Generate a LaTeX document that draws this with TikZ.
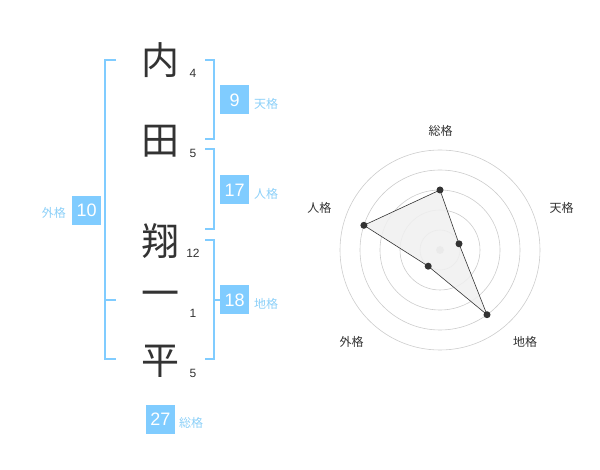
\documentclass[tikz,border=0pt]{standalone}
\usepackage{fontspec}
\setmainfont{Liberation Sans}
\newfontfamily\cjk{Noto Sans CJK JP}
\definecolor{blu}{HTML}{80CCFF}
\definecolor{lbl}{HTML}{8CD0F8}
\definecolor{ink}{HTML}{333333}
\definecolor{ring}{HTML}{CCCCCC}
\definecolor{area}{HTML}{F0F0F0}
\begin{document}
\begin{tikzpicture}[x=1pt,y=-1pt,
  kanji/.style={font=\cjk\fontsize{38}{38}\selectfont, text=ink, inner sep=0pt},
  stroke/.style={font=\fontsize{12}{12}\selectfont, text=ink, inner sep=0pt},
  numbox/.style={fill=blu, text=white, minimum width=29pt, minimum height=29pt, inner sep=0pt, font=\fontsize{18}{18}\selectfont},
  kaku/.style={font=\cjk\fontsize{12}{12}\selectfont, text=lbl, inner sep=0pt},
  brk/.style={draw=blu, line width=2pt},
  axl/.style={font=\cjk\fontsize{12}{12}\selectfont, text=ink, inner sep=0pt},
  dot/.style={circle, fill=ink, inner sep=0pt, minimum size=7pt}]
\useasboundingbox (0,0) rectangle (600,470);
% characters
\node[kanji] (c1) at (160,60) {内};
\node[kanji] (c2) at (160,141) {田};
\node[kanji] (c3) at (160,241) {翔};
\node[kanji] (c4) at (160,299) {一};
\node[kanji] (c5) at (160,361) {平};
\node[stroke] (s1) at (193,73) {4};
\node[stroke] (s2) at (193,153) {5};
\node[stroke] (s3) at (193,253) {12};
\node[stroke] (s4) at (193,313) {1};
\node[stroke] (s5) at (193,373) {5};
% brackets
\draw[brk] (116,60) -- (105,60) -- (105,359.5) -- (116,359.5);
\draw[brk] (105,300) -- (116,300);
\draw[brk] (205,60) -- (214,60) -- (214,139.5) -- (205,139.5);
\draw[brk] (205,149.5) -- (214,149.5) -- (214,229.5) -- (205,229.5);
\draw[brk] (205,240) -- (214,240) -- (214,359.5) -- (205,359.5);
\draw[brk] (214,300) -- (223,300);
% boxes and labels
\node[numbox] (b0) at (86.7,210.5) {10};
\node[kaku, anchor=east] (l0) at (66,213) {外格};
\node[numbox] (b1) at (234.7,100) {9};
\node[kaku, anchor=west] (l1) at (254,104) {天格};
\node[numbox] (b2) at (234.7,190) {17};
\node[kaku, anchor=west] (l2) at (254,194) {人格};
\node[numbox] (b3) at (234.7,300) {18};
\node[kaku, anchor=west] (l3) at (254,304) {地格};
\node[numbox] (b4) at (160.5,419) {27};
\node[kaku, anchor=west] (l4) at (179,423) {総格};
% radar
\coordinate (o) at (440,250);
\foreach \r in {20,40,60,80,100} \draw[ring, line width=0.6pt] (o) circle[radius=\r];
\fill[ring] (o) circle[radius=4];
\coordinate (q1) at (440,190);
\coordinate (q2) at (459.0,243.8);
\coordinate (q3) at (487.0,314.7);
\coordinate (q4) at (428.2,266.2);
\coordinate (q5) at (363.9,225.3);
\draw[fill=area, fill opacity=0.85, draw=ink, line width=0.6pt] (q1) -- (q2) -- (q3) -- (q4) -- (q5) -- cycle;
\foreach \i in {1,...,5} \node[dot] (p\i) at (q\i) {};
\node[axl] (a1) at (440.7,131) {総格};
\node[axl] (a2) at (561.7,208) {天格};
\node[axl] (a3) at (525,342) {地格};
\node[axl] (a4) at (351.7,342) {外格};
\node[axl] (a5) at (319.3,208) {人格};
\end{tikzpicture}
\end{document}
